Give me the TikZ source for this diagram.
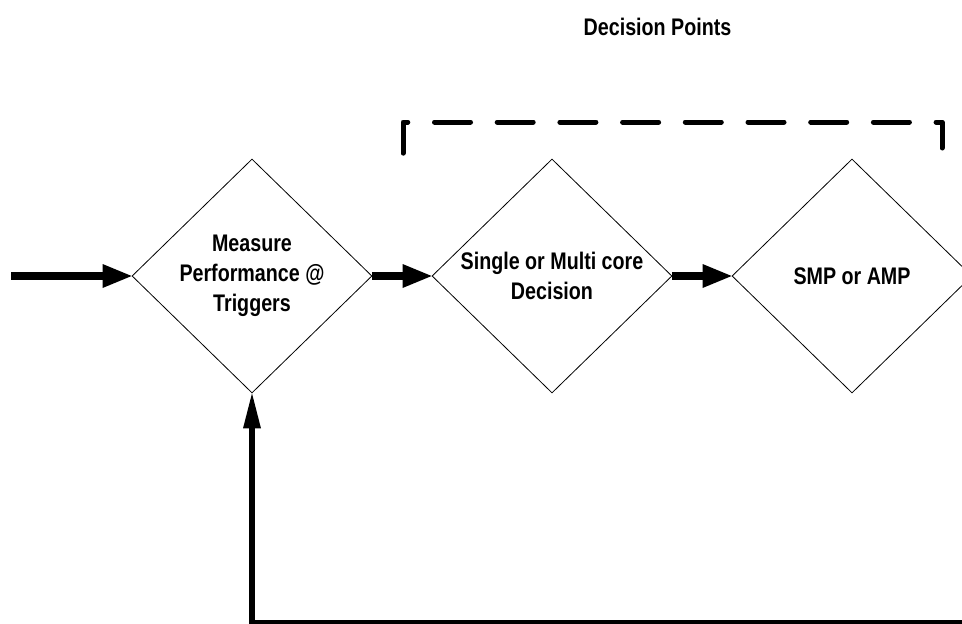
\documentclass[tikz,border=0pt]{standalone}
\usepackage{fontspec}
\setmainfont{Liberation Sans}[FakeStretch=0.82]
\usetikzlibrary{shapes.geometric,arrows.meta}
\begin{document}
\begin{tikzpicture}[x=1pt,y=-1pt,
  lbl/.style={font=\fontsize{24}{30}\selectfont\bfseries},
  dec/.style={diamond, draw, line width=0.8pt, aspect=1.1,
    minimum width=240pt, minimum height=234pt, inner sep=0pt,
    align=center, lbl},
  harrow/.style={line width=7.5pt,
    -{Triangle[length=29pt,width=24pt,line width=0pt]}},
  varrow/.style={line width=6pt,
    -{Triangle[length=35pt,width=18pt,line width=0pt]}},
  bracket/.style={line width=5pt, line cap=round, line join=round,
    dash pattern=on 36pt off 26.7pt, dash phase=53.9pt}]
\path[use as bounding box] (0,0) rectangle (962,624);
\clip (0,0) rectangle (962,624);

\node[lbl, anchor=base] (title) at (657.5,35) {Decision Points};

\node[dec] (m) at (252,276) {Measure\\Performance @\\Triggers};
\node[dec] (s) at (552,276) {Single or Multi core\\Decision};
\node[dec] (a) at (852,276) {SMP or AMP};

\coordinate (in) at (11,276);
\draw[harrow] (in) -- (m.west);
\draw[harrow] (m.east) -- (s.west);
\draw[harrow] (s.east) -- (a.west);

\coordinate (b1) at (403,162);
\coordinate (b2) at (403,122);
\coordinate (b3) at (942,122);
\coordinate (b4) at (942,148);
\draw[bracket] (b1) -- (b2) -- (b3) -- (b4);

\coordinate (fb) at (980,623);
\draw[varrow] (fb) -| (m.south);
\end{tikzpicture}
\end{document}
